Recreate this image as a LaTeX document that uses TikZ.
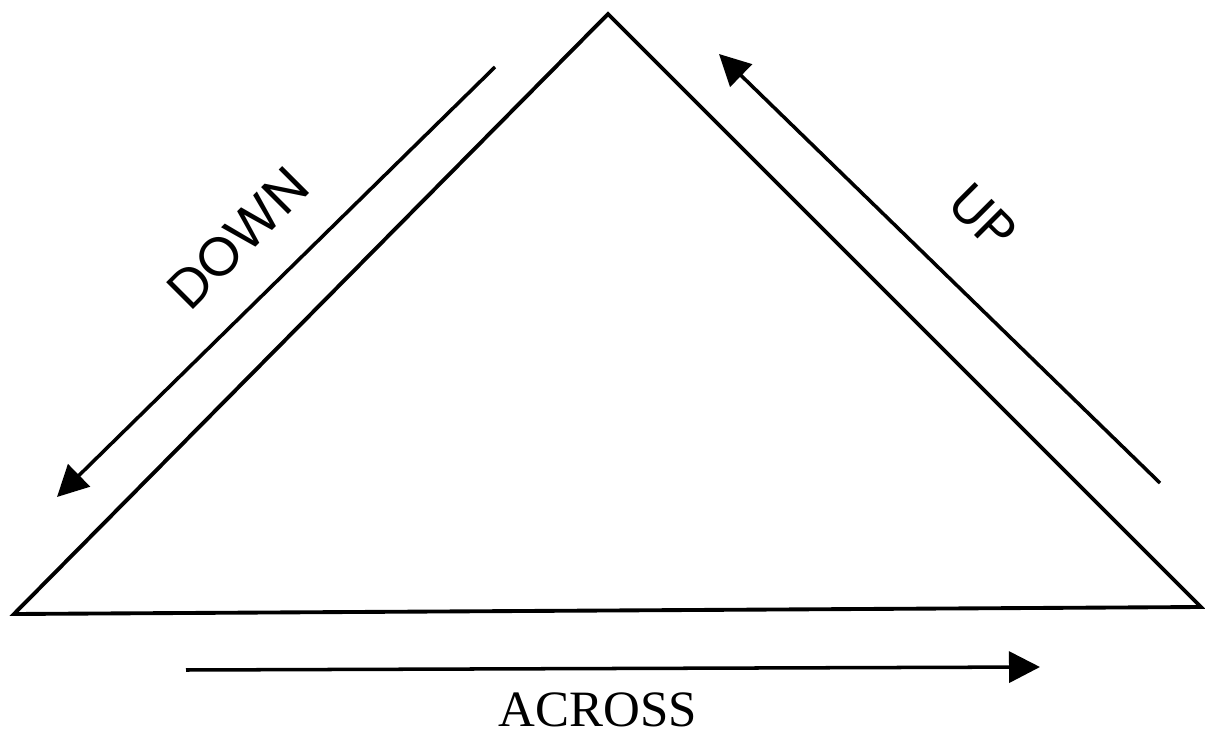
\documentclass[tikz,border=0pt]{standalone}
\usepackage{fontspec}
\setmainfont{Liberation Serif}
\newfontfamily\gothic{Poppins}
\usetikzlibrary{arrows.meta}
\tikzset{
  side/.style={line width=2.2pt, line join=miter},
  flowarrow/.style={-{Triangle[length=6.2mm,width=6.2mm]}, line width=2pt},
  dirlabel/.style={font=\gothic\fontsize{31}{34}\selectfont, inner sep=0pt}
}

\begin{document}
\begin{tikzpicture}[x=0.2mm, y=0.2mm]
    \useasboundingbox (0,0) rectangle (1205,735);
    % triangle corners
    \coordinate (left) at (14,121);
    \coordinate (top) at (608,721);
    \coordinate (right) at (1201,128);
    \draw[side] (left) -- (top) -- (right) -- cycle;
    % arrow ends
    \coordinate (downstart) at (495,668);
    \coordinate (downend) at (57,238);
    \coordinate (upstart) at (1160,252);
    \coordinate (upend) at (719,681);
    \coordinate (acrossstart) at (186,65);
    \coordinate (acrossend) at (1040,68);
    \draw[flowarrow] (downstart) -- (downend);
    \draw[flowarrow] (upstart) -- (upend);
    \draw[flowarrow] (acrossstart) -- (acrossend);
    % labels
    \node[dirlabel, rotate=45] (downlabel) at (238,497) {DOWN};
    \node[dirlabel, rotate=-45] (uplabel) at (983,518) {UP};
    \node[inner sep=0pt, anchor=base, font=\fontsize{29}{32}\selectfont] (acrosslabel) at (598,9) {ACROSS};
\end{tikzpicture}
\end{document}
